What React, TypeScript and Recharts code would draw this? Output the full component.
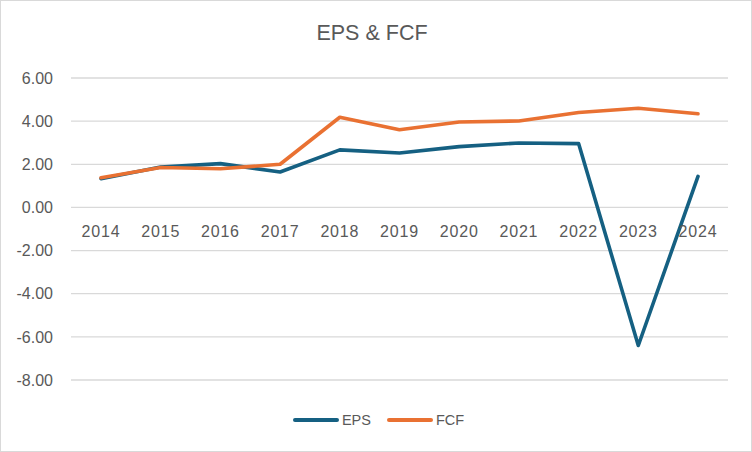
import React from "react";
import {
  LineChart,
  Line,
  XAxis,
  YAxis,
  CartesianGrid,
  Legend,
} from "recharts";

const years = ["2014", "2015", "2016", "2017", "2018", "2019", "2020", "2021", "2022", "2023", "2024"];
const eps = [1.33, 1.87, 2.03, 1.64, 2.67, 2.52, 2.82, 2.99, 2.96, -6.4, 1.44];
const fcf = [1.38, 1.85, 1.79, 2.0, 4.18, 3.6, 3.96, 4.01, 4.4, 4.6, 4.34];
const yTicks = [-8, -6, -4, -2, 0, 2, 4, 6];

const data = years.map((year, i) => ({ year, EPS: eps[i], FCF: fcf[i] }));

const W = 752;
const H = 452;
const MARGIN = { top: 78, right: 24, bottom: 71, left: 0 };
const PLOT_H = H - MARGIN.top - MARGIN.bottom - 1;
const Y_MIN = yTicks[0];
const Y_MAX = yTicks[yTicks.length - 1];
const TEXT = "#595959";
const FONT = "'Liberation Sans', Arial, sans-serif";

// Excel puts the category labels next to the zero line, not at the bottom
const zeroY = MARGIN.top + (Y_MAX / (Y_MAX - Y_MIN)) * PLOT_H;

function YearTick(props: any) {
  const { x, payload } = props;
  return (
    <text
      x={x}
      y={zeroY + 30}
      textAnchor="middle"
      fill={TEXT}
      fontSize={16}
      fontFamily={FONT}
      letterSpacing={0.8}
    >
      {payload.value}
    </text>
  );
}

function LegendContent(props: any) {
  const { payload } = props;
  return (
    <div
      style={{
        display: "flex",
        justifyContent: "center",
        alignItems: "center",
        gap: 15,
        fontFamily: FONT,
        fontSize: 14.5,
        color: TEXT,
      }}
    >
      {payload.map((item: any) => (
        <div key={item.value} style={{ display: "flex", alignItems: "center" }}>
          <svg width={48} height={8} style={{ marginRight: 2 }}>
            <line
              x1={3}
              y1={4}
              x2={45}
              y2={4}
              stroke={item.color}
              strokeWidth={4}
              strokeLinecap="round"
            />
          </svg>
          <span>{item.value}</span>
        </div>
      ))}
    </div>
  );
}

export default function App() {
  return (
    <div style={{ position: "fixed", top: 0, left: 0, width: W, height: H, background: "#fff" }}>
      <div
        style={{
          position: "absolute",
          top: 21,
          left: 0,
          width: W - 8,
          textAlign: "center",
          fontFamily: FONT,
          fontSize: 21.5,
          color: TEXT,
        }}
      >
        EPS &amp; FCF
      </div>
      <LineChart width={W} height={H} data={data} margin={MARGIN}>
        <CartesianGrid horizontal vertical={false} stroke="#D9D9D9" strokeWidth={1.3} />
        <XAxis
          dataKey="year"
          axisLine={false}
          tickLine={false}
          height={1}
          padding={{ left: 30, right: 30 }}
          tick={(p: any) => <YearTick {...p} />}
          interval={0}
        />
        <YAxis
          width={71}
          domain={[Y_MIN, Y_MAX]}
          ticks={yTicks}
          axisLine={false}
          tickLine={false}
          tickSize={0}
          tickMargin={18}
          tickFormatter={(v: number) => v.toFixed(2)}
          tick={{ fill: TEXT, fontSize: 16, fontFamily: FONT }}
        />
        <Legend
          verticalAlign="middle"
          content={<LegendContent />}
          wrapperStyle={{ left: 2, width: W, top: 412 }}
        />
        <Line
          type="linear"
          dataKey="EPS"
          stroke="#156082"
          strokeWidth={3.6}
          strokeLinecap="round"
          strokeLinejoin="round"
          dot={false}
          isAnimationActive={false}
        />
        <Line
          type="linear"
          dataKey="FCF"
          stroke="#E97132"
          strokeWidth={3.6}
          strokeLinecap="round"
          strokeLinejoin="round"
          dot={false}
          isAnimationActive={false}
        />
      </LineChart>
      <div
        style={{
          position: "absolute",
          top: 0,
          left: 0,
          width: W,
          height: H,
          boxSizing: "border-box",
          border: "1.5px solid #D9D9D9",
          pointerEvents: "none",
        }}
      />
    </div>
  );
}
